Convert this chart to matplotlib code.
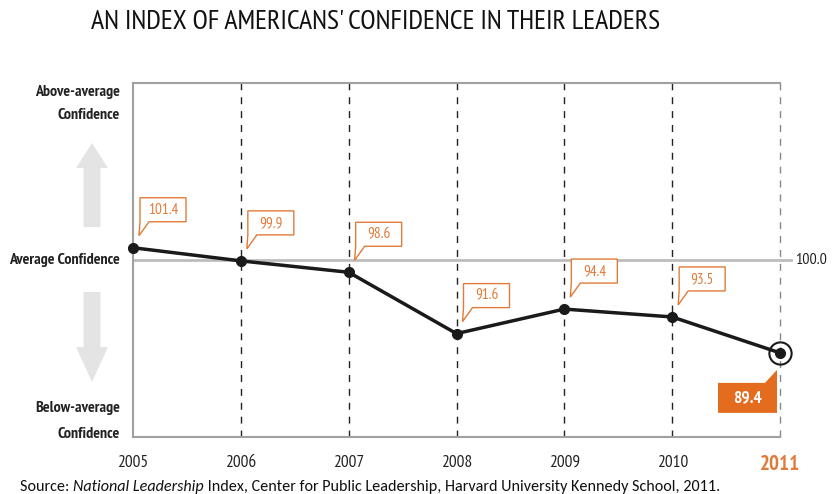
import matplotlib
matplotlib.use('Agg')
import matplotlib.pyplot as plt
import matplotlib.transforms as mtransforms
from matplotlib.patches import Polygon

years = [2005, 2006, 2007, 2008, 2009, 2010, 2011]
index_values = [101.4, 99.9, 98.6, 91.6, 94.4, 93.5, 89.4]
value_labels = ['101.4', '99.9', '98.6', '91.6', '94.4', '93.5', '89.4']
average_level = 100.0

title = "AN INDEX OF AMERICANS' CONFIDENCE IN THEIR LEADERS"
source_parts = [('Source: ', 'normal'), ('National Leadership', 'italic'),
                (' Index, Center for Public Leadership, Harvard University Kennedy School, 2011.', 'normal')]

NARROW = ['PT Sans Narrow', 'Open Sans Condensed', 'DejaVu Sans']
BODY = ['Carlito', 'Open Sans', 'DejaVu Sans']
ORANGE = '#e07b39'
ORANGE_FILL = '#e36c1e'
DARK = '#222222'

fig = plt.figure(figsize=(8.35, 4.94), dpi=100)
ax = fig.add_axes([133 / 835, 1 - 437 / 494, (780 - 133) / 835, (437 - 83) / 494])
ax.set_xlim(2005, 2011)
ax.set_ylim(79.8, 120.2)

ax.spines['right'].set_visible(False)
for side in ['top', 'left', 'bottom']:
    ax.spines[side].set_color('#a0a0a0')
    ax.spines[side].set_linewidth(1.5)
ax.set_yticks([])
ax.set_xticks(years)
ax.tick_params(axis='x', length=0, pad=13)
ax.set_xticklabels([str(y) for y in years], family=NARROW, fontsize=12.5, color=DARK)
last = ax.get_xticklabels()[-1]
last.set_color(ORANGE)
last.set_fontweight('bold')
last.set_fontsize(15)

# vertical dashed guides
for y in years[1:-1]:
    ax.axvline(y, color='#222222', lw=1, ls=(0, (5, 5)), zorder=1)
ax.axvline(years[-1], color='#888888', lw=1, ls=(0, (5, 5)), zorder=1, clip_on=False)

# average line
ax.plot([2005, 2011.1], [average_level, average_level], color='#bdbdbd', lw=2,
        clip_on=False, zorder=2)
ax.text(2011.14, average_level, '100.0', family=NARROW, fontsize=11.5, color=DARK,
        va='center', ha='left')

ax.plot(years, index_values, color='#1a1a1a', lw=2.5, marker='o', markersize=7,
        clip_on=False, zorder=5)
ax.plot(years[-1], index_values[-1], marker='o', markersize=16, markerfacecolor='none',
        markeredgecolor='#1a1a1a', markeredgewidth=1.5, clip_on=False, zorder=5)

# callouts, vertices in inches (1 px = 0.01 in) relative to each point
def point_trans(x, y):
    return fig.dpi_scale_trans + mtransforms.ScaledTranslation(x, y, ax.transData)

for x, v, lab in zip(years[:-1], index_values[:-1], value_labels[:-1]):
    L, R, B, T = 0.07, 0.53, 0.26, 0.50
    verts = [(L, T), (R, T), (R, B), (L + 0.09, B), (L - 0.01, 0.12), (L, B)]
    poly = Polygon(verts, closed=True, facecolor='white', edgecolor=ORANGE, lw=1,
                   transform=point_trans(x, v), clip_on=False, zorder=6)
    ax.add_patch(poly)
    ax.text((L + R) / 2, (B + T) / 2, lab, transform=point_trans(x, v), family=NARROW,
            fontsize=11, color=ORANGE, ha='center', va='center', zorder=7)

# last value highlighted
L, R, B, T = -0.62, -0.03, -0.60, -0.30
verts = [(L, T), (R - 0.12, T), (R, -0.17), (R, B), (L, B)]
ax.add_patch(Polygon(verts, closed=True, facecolor=ORANGE_FILL, edgecolor='none',
                     transform=point_trans(years[-1], index_values[-1]), clip_on=False, zorder=6))
ax.text((L + R) / 2, (B + T) / 2, value_labels[-1], transform=point_trans(years[-1], index_values[-1]),
        family=NARROW, fontsize=12.5, fontweight='bold', color='white', ha='center', va='center', zorder=7)

# left side labels
def fy(py):
    return 1 - py / 494

lab_kw = dict(family=NARROW, fontsize=11.5, fontweight='bold', color=DARK, ha='right', va='center')
fig.text(120 / 835, fy(92), 'Above-average', **lab_kw)
fig.text(120 / 835, fy(115), 'Confidence', **lab_kw)
fig.text(120 / 835, fy(260), 'Average Confidence', **lab_kw)
fig.text(120 / 835, fy(408), 'Below-average', **lab_kw)
fig.text(120 / 835, fy(434), 'Confidence', **lab_kw)

# grey arrows
cx = 92
up = [(cx - 8.5, 227), (cx + 8.5, 227), (cx + 8.5, 168), (cx + 16, 168), (cx, 143),
      (cx - 16, 168), (cx - 8.5, 168)]
down = [(cx - 8.5, 292), (cx + 8.5, 292), (cx + 8.5, 347), (cx + 16, 347), (cx, 382),
        (cx - 16, 347), (cx - 8.5, 347)]
for pts in (up, down):
    fig.patches.append(Polygon([(px / 835, fy(py)) for px, py in pts], closed=True,
                               facecolor='#e4e4e4', edgecolor='none',
                               transform=fig.transFigure))

fig.text(376 / 835, fy(22), title, family=NARROW, fontsize=20, color='#111111',
         ha='center', va='center')

# source line with italic part
fig.canvas.draw()
renderer = fig.canvas.get_renderer()
xpos = 20 / 835
for txt, style in source_parts:
    t = fig.text(xpos, fy(487), txt, family=BODY, fontsize=11.6,
                 style=style, color='#111111', ha='left', va='center')
    bb = t.get_window_extent(renderer)
    xpos = bb.x1 / fig.bbox.width

fig.savefig('out.png', dpi=100)
